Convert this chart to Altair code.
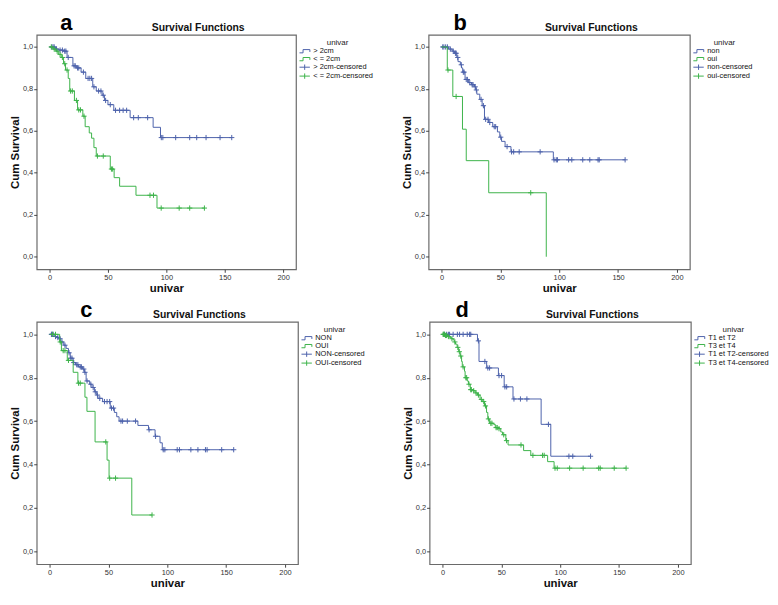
import altair as alt
import pandas as pd

BLUE = "#4d62ab"
GREEN = "#3db34a"
FONT = "Liberation Sans"

# ---------------- panel a ----------------
a_labels = ["> 2cm", "< = 2cm"]
a_blue_t = [5, 8, 12, 15, 20, 23, 27, 31, 37, 40, 45, 47, 50, 55, 69, 88.7, 95]
a_blue_s = [0.99, 0.985, 0.98, 0.95, 0.91, 0.90, 0.88, 0.85, 0.81, 0.79, 0.77, 0.745, 0.725, 0.698, 0.663, 0.617, 0.568]
a_blue_c = [2, 3, 4, 6, 9, 11, 13, 14, 16, 21, 22, 24, 25, 29, 33, 34.5, 36, 38, 42, 44, 46, 48, 52,
            56.5, 60, 63, 66, 72, 76, 84, 95.7, 97, 108, 120, 126, 134, 146, 156]
a_green_t = [3, 5.3, 7.5, 10, 12, 13.7, 16, 17.3, 21.3, 24, 28.5, 30.5, 34, 36, 38, 40, 52, 55.3, 60, 74, 92]
a_green_s = [0.99, 0.98, 0.965, 0.95, 0.92, 0.89, 0.85, 0.79, 0.745, 0.70, 0.67, 0.62, 0.59, 0.565, 0.52,
             0.48, 0.418, 0.377, 0.336, 0.293, 0.232]
a_green_c = [1.5, 4, 6.5, 9, 11, 13, 15, 18, 19.5, 23, 25, 26.5, 29.5, 41, 46, 53, 54, 86, 89, 95.6, 111, 120, 132.6]

# ---------------- panel b ----------------
b_labels = ["non", "oui"]
b_blue_t = [6, 9, 11, 13, 14, 16, 17, 18, 20, 23, 25.5, 28, 29, 30, 32.5, 34.5, 36.5, 40, 43.5, 47.5, 49.5,
            51, 54, 59, 95]
b_blue_s = [0.99, 0.98, 0.97, 0.95, 0.93, 0.915, 0.90, 0.88, 0.845, 0.83, 0.82, 0.81, 0.795, 0.775, 0.75,
            0.72, 0.655, 0.64, 0.62, 0.595, 0.57, 0.55, 0.525, 0.50, 0.462]
b_blue_c = [1, 2, 3.5, 5, 7.5, 10, 11.8, 12.5, 13.8, 16.8, 18.5, 19.2, 21, 22, 24, 26, 26.8, 28.6, 29.6,
            33.6, 35.6, 37.5, 39.5, 41, 44.8, 46, 50.3, 55.7, 59.5, 61.3, 66, 83.8, 95.6, 97.5, 98.5, 108,
            110.7, 120, 126, 133, 134, 156]
b_green_t = [4.9, 9.6, 17.8, 21, 40.1, 89]
b_green_s = [0.89, 0.764, 0.608, 0.458, 0.305, 0.0]
b_green_c = [5.5, 12.4, 75.8]

# ---------------- panel c ----------------
c_labels = ["NON", "OUI"]
c_blue_t = [4, 6, 8, 9.5, 12, 14, 16, 17.5, 20, 22, 24.5, 28, 29.5, 31, 34, 36, 38, 40, 41, 45, 51.5, 55,
            57, 59, 75, 84, 89.6, 93.8, 95.7]
c_blue_s = [0.99, 0.985, 0.98, 0.965, 0.95, 0.935, 0.915, 0.89, 0.87, 0.86, 0.85, 0.84, 0.825, 0.785, 0.77,
            0.755, 0.735, 0.72, 0.705, 0.69, 0.66, 0.64, 0.62, 0.60, 0.58, 0.56, 0.53, 0.50, 0.468]
c_blue_c = [1.5, 2, 3, 5, 7, 8.8, 10.5, 13, 16.5, 18, 19, 20.5, 23, 24, 26, 27, 29, 30, 31.8, 35, 37, 38.8,
            40.6, 42.6, 46.6, 48.8, 51, 52.6, 54.3, 60.6, 62, 66, 73, 84.5, 90, 96.5, 97.9, 108.4, 110.3,
            120, 126, 132.4, 133.8, 146.2, 156.4]
c_green_t = [8.5, 10, 15, 20, 24, 30, 31.7, 38.6, 48.8, 50.5, 69.8]
c_green_s = [0.965, 0.925, 0.88, 0.825, 0.775, 0.71, 0.645, 0.504, 0.42, 0.337, 0.167]
c_green_c = [2.5, 5, 9, 11.5, 13, 16, 24.5, 26, 47.7, 51, 56, 87]

# ---------------- panel d ----------------
d_labels = ["T1 et T2", "T3 et T4"]
d_blue_t = [29.7, 31, 37.5, 47.5, 52.4, 59.9, 83.8, 92]
d_blue_s = [0.97, 0.875, 0.845, 0.81, 0.758, 0.702, 0.585, 0.438]
d_blue_c = [1.6, 3.5, 5, 6, 9, 12.6, 14.5, 17.5, 21, 23, 24, 30.5, 36, 38.5, 40, 48, 50.2, 53, 54.5, 60.7,
            66.2, 71.7, 90, 107.4, 110.7, 125.8]
d_green_t = [2, 4, 6, 7.7, 9, 10, 11, 12.4, 13.7, 15, 16.2, 16.8, 18.7, 19.2, 21, 22, 23.6, 25.8, 27.7,
             29.7, 31.9, 33.8, 35.7, 37.4, 38.5, 40, 43.4, 44.8, 47.5, 49.5, 51, 53.8, 55.7, 68.9, 75,
             89.3, 94.8]
d_green_s = [0.995, 0.99, 0.985, 0.98, 0.975, 0.965, 0.955, 0.94, 0.92, 0.90, 0.875, 0.85, 0.83, 0.80,
             0.785, 0.77, 0.745, 0.74, 0.73, 0.72, 0.70, 0.69, 0.67, 0.64, 0.61, 0.59, 0.585, 0.57, 0.565,
             0.55, 0.537, 0.51, 0.49, 0.464, 0.442, 0.413, 0.383]
d_green_c = [0.5, 1, 1.5, 2.5, 3, 3.5, 5, 8, 10.5, 13, 14.3, 15.5, 17.5, 19.8, 20.5, 22.5, 24, 24.5, 26.5,
             28.5, 30.5, 33, 35, 36.5, 39, 41, 42, 45.5, 46.5, 48, 52, 54.4, 66.7, 76.8, 85, 86.4, 95.6,
             97.5, 108, 119.5, 132.7, 134, 145.9, 156]

X_TICKS = [0, 50, 100, 150, 200]
Y_TICKS = [0.0, 0.2, 0.4, 0.6, 0.8, 1.0]

CENS_MARK = "M0,-1V1M-1,0H1"
LEG_STEP = "M-2.4,0.5H-1.2V-0.6H1.1V0.2"
LEG_CENS = "M-2.4,0H1.1M-0.65,-0.9V0.9"


def step_value(ev_t, ev_s, t):
    v = 1.0
    for et, es in zip(ev_t, ev_s):
        if et <= t:
            v = es
        else:
            break
    return v


def curve_df(ev_t, ev_s, cens):
    t_end = max(list(ev_t) + list(cens))
    ts = [0.0] + list(ev_t) + [t_end]
    ss = [1.0] + list(ev_s) + [ev_s[-1]]
    return pd.DataFrame({"t": ts, "s": ss})


def cens_df(ev_t, ev_s, cens):
    return pd.DataFrame({"t": cens, "s": [step_value(ev_t, ev_s, c) for c in cens]})


def panel(letter, letter_dx, labels, blue, green, W, H):
    field = "lab_" + letter
    dom = [labels[0], labels[1], labels[0] + "-censored", labels[1] + "-censored"]
    xs = alt.X("t:Q", scale=alt.Scale(domain=[-11, 211], nice=False, zero=False),
               axis=alt.Axis(values=X_TICKS, title="univar"))
    ys = alt.Y("s:Q", scale=alt.Scale(domain=[-0.06, 1.058], nice=False, zero=False),
               axis=alt.Axis(values=Y_TICKS, title="Cum Survival",
                             labelExpr="replace(format(datum.value, '.1f'), '.', ',')"))
    layers = []
    for (ev_t, ev_s, cens), col in ((blue, BLUE), (green, GREEN)):
        layers.append(
            alt.Chart(curve_df(ev_t, ev_s, cens))
            .mark_line(interpolate="step-after", strokeWidth=1, color=col)
            .encode(x=xs, y=ys)
        )
        layers.append(
            alt.Chart(cens_df(ev_t, ev_s, cens))
            .mark_point(shape=CENS_MARK, size=28, strokeWidth=1, filled=False, color=col, opacity=1)
            .encode(x=xs, y=ys)
        )
    leg = alt.Legend(title="univar", orient="none", legendX=W + 7, legendY=4,
                     titleFontSize=8, titleFontWeight="normal", titleColor="#222",
                     titleAnchor="middle", titlePadding=1, labelFontSize=7.5, labelColor="#111",
                     labelOffset=3, rowPadding=-1.5, symbolSize=36, symbolStrokeWidth=1,
                     padding=0, labelFont=FONT, titleFont=FONT)
    legend_layer = (
        alt.Chart(pd.DataFrame({field: pd.Series([], dtype="object")}))
        .mark_point(filled=False, size=36, strokeWidth=1, opacity=1)
        .encode(
            color=alt.Color(field + ":N", scale=alt.Scale(domain=dom, range=[BLUE, GREEN, BLUE, GREEN]),
                            legend=leg),
            shape=alt.Shape(field + ":N",
                            scale=alt.Scale(domain=dom, range=[LEG_STEP, LEG_STEP, LEG_CENS, LEG_CENS]),
                            legend=leg),
        )
    )
    title_layer = (
        alt.Chart(pd.DataFrame({"txt": ["Survival Functions"]}))
        .mark_text(font=FONT, fontSize=10.5, fontWeight="bold", align="center", baseline="alphabetic",
                   color="#111")
        .encode(x=alt.value(W * 0.623), y=alt.value(-4), text="txt:N")
    )
    letter_layer = (
        alt.Chart(pd.DataFrame({"txt": [letter]}))
        .mark_text(font=FONT, fontSize=22, fontWeight="bold", align="center", baseline="alphabetic",
                   color="#000")
        .encode(x=alt.value(letter_dx), y=alt.value(-5), text="txt:N")
    )
    return alt.layer(*layers, legend_layer, title_layer, letter_layer).properties(width=W, height=H)


pa = panel("a", 30, a_labels, (a_blue_t, a_blue_s, a_blue_c), (a_green_t, a_green_s, a_green_c), 262, 237)
pb = panel("b", 32, b_labels, (b_blue_t, b_blue_s, b_blue_c), (b_green_t, b_green_s, b_green_c), 264, 237)
pc = panel("c", 50, c_labels, (c_blue_t, c_blue_s, c_blue_c), (c_green_t, c_green_s, c_green_c), 264, 245)
pd_ = panel("d", 33, d_labels, (d_blue_t, d_blue_s, d_blue_c), (d_green_t, d_green_s, d_green_c), 264, 245)

row1 = alt.hconcat(pa, pb, spacing=26).resolve_scale(color="independent", shape="independent")
row2 = alt.hconcat(pc, pd_, spacing=35).resolve_scale(color="independent", shape="independent")

chart = (
    alt.vconcat(row1, row2, spacing=3)
    .resolve_scale(color="independent", shape="independent")
    .properties(padding=0)
    .configure(font=FONT)
    .configure_view(fill="#f0f0f0", stroke="#6a6a6a", strokeWidth=1.2)
    .configure_axis(grid=False, domain=False, ticks=True, tickSize=3, tickColor="#444",
                    labelFontSize=7.5, labelColor="#333", labelPadding=1, labelFont=FONT,
                    titleFontSize=11.5, titleFontWeight="bold", titleColor="#111", titlePadding=2,
                    titleFont=FONT)
)

chart.save("out.html", embed_options={"renderer": "svg", "actions": False})
